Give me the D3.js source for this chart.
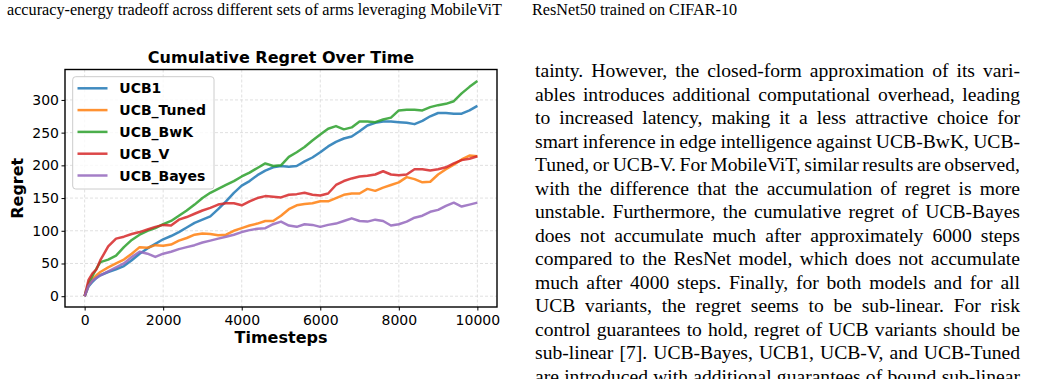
<!DOCTYPE html>
<html>
<head>
<meta charset="utf-8">
<script src="https://cdn.jsdelivr.net/npm/d3@7"></script>
<style>
  html, body { margin: 0; padding: 0; background: #fff; }
  svg { display: block; }
</style>
</head>
<body>
<div id="page"></div>
<script>
// timesteps at which the curves were read
const steps = [0, 100, 200, 300, 400, 600, 800, 1000, 1200, 1400, 1600, 1800, 2000,
  2200, 2400, 2600, 2800, 3000, 3200, 3400, 3600, 3800, 4000, 4200, 4400, 4600, 4800,
  5000, 5200, 5400, 5600, 5800, 6000, 6200, 6400, 6600, 6800, 7000, 7200, 7400, 7600,
  7800, 8000, 8200, 8400, 8600, 8800, 9000, 9200, 9400, 9600, 9800, 10000];

const ucb1 = [0, 15, 22, 28, 32, 37, 41, 46, 55, 65, 73, 80, 87, 92, 98, 105, 112, 117,
  122, 133, 145, 158, 169, 176, 185, 192, 197, 199, 198, 199, 206, 212, 220, 229, 236,
  241, 244, 252, 261, 265, 267, 267, 266, 265, 263, 268, 275, 280, 280, 279, 279, 284, 291];
const ucbTuned = [0, 17, 26, 32, 37, 44, 50, 56, 65, 75, 74, 78, 77, 79, 85, 89, 94, 96,
  95, 93, 94, 100, 104, 108, 111, 115, 115, 123, 133, 139, 141, 142, 145, 145, 150, 155,
  157, 157, 164, 161, 166, 170, 174, 182, 179, 174, 175, 186, 194, 201, 209, 215, 214];
const ucbBwk = [0, 20, 31, 42, 52, 56, 62, 75, 86, 94, 100, 104, 110, 115, 123, 131, 140,
  150, 158, 164, 170, 176, 183, 189, 196, 203, 199, 200, 213, 220, 228, 238, 247, 256, 260,
  255, 258, 267, 267, 266, 270, 273, 284, 285, 285, 284, 289, 292, 294, 298, 310, 320, 329];
const ucbV = [0, 25, 35, 41, 55, 76, 88, 91, 95, 98, 102, 106, 109, 108, 117, 121, 126,
  131, 135, 140, 142, 142, 139, 145, 150, 153, 152, 151, 155, 156, 158, 155, 154, 157, 170,
  176, 180, 183, 184, 186, 191, 186, 185, 186, 194, 194, 192, 194, 197, 203, 208, 210, 214];
const ucbBayes = [0, 16, 24, 28, 32, 38, 44, 50, 60, 68, 65, 60, 65, 68, 72, 75, 78, 82,
  85, 88, 91, 94, 98, 101, 103, 104, 110, 114, 108, 106, 110, 109, 106, 109, 111, 115, 119,
  115, 114, 117, 115, 108, 110, 114, 120, 123, 129, 132, 138, 143, 137, 140, 143];

const seriesNames = ['UCB1', 'UCB_Tuned', 'UCB_BwK', 'UCB_V', 'UCB_Bayes'];
const seriesValues = [ucb1, ucbTuned, ucbBwk, ucbV, ucbBayes];
const colors = ['#1f77b4', '#ff7f0e', '#2ca02c', '#d62728', '#9467bd'];

const xTicks = [0, 2000, 4000, 6000, 8000, 10000];
const yTicks = [0, 50, 100, 150, 200, 250, 300];

const captionLeft = 'accuracy-energy tradeoff across different sets of arms leveraging MobileViT';
const captionRight = 'ResNet50 trained on CIFAR-10';
const bodyLines = [
  'tainty. However, the closed-form approximation of its vari-',
  'ables introduces additional computational overhead, leading',
  'to increased latency, making it a less attractive choice for',
  'smart inference in edge intelligence against UCB-BwK, UCB-',
  'Tuned, or UCB-V. For MobileViT, similar results are observed,',
  'with the difference that the accumulation of regret is more',
  'unstable. Furthermore, the cumulative regret of UCB-Bayes',
  'does not accumulate much after approximately 6000 steps',
  'compared to the ResNet model, which does not accumulate',
  'much after 4000 steps. Finally, for both models and for all',
  'UCB variants, the regret seems to be sub-linear. For risk',
  'control guarantees to hold, regret of UCB variants should be',
  'sub-linear [7]. UCB-Bayes, UCB1, UCB-V, and UCB-Tuned',
  'are introduced with additional guarantees of bound sub-linear'
];

const W = 1041, H = 379;
const svg = d3.select('#page').append('svg').attr('width', W).attr('height', H);
svg.append('rect').attr('width', W).attr('height', H).attr('fill', '#fff');

// justify a line of text by spreading the word gaps
function justify(sel, width) {
  sel.each(function() {
    let n = this.getComputedTextLength();
    let gaps = (this.textContent.match(/ /g) || []).length;
    if (gaps) d3.select(this).attr('word-spacing', (width - n) / gaps);
  });
}

const serif = '"Liberation Serif", "Times New Roman", serif';

// paper text around the figure
svg.append('text').attr('x', 7).attr('y', 14.5)
  .attr('font-family', serif).attr('font-size', 16.2)
  .text(captionLeft).call(justify, 495);

svg.append('text').attr('x', 532).attr('y', 15)
  .attr('font-family', serif).attr('font-size', 16.2)
  .text(captionRight);

svg.append('g').selectAll('text')
  .data(bodyLines).enter()
  .append('text')
    .attr('x', 535)
    .attr('y', function(d, i) { return 77 + i * 23.5; })
    .attr('font-family', serif)
    .attr('font-size', 19.6)
    .text(function(d) { return d; })
    .call(justify, 485);

// chart
const pL = 65, pR = 497, pT = 69.5, pB = 307;
const x = d3.scaleLinear().domain([-500, 10500]).range([pL, pR]);
const y = d3.scaleLinear().domain([-16.5, 346.5]).range([pB, pT]);
const sans = '"DejaVu Sans", sans-serif';

let grid = svg.append('g').attr('stroke', '#d8d8d8').attr('stroke-width', 0.8)
  .attr('stroke-dasharray', '3,2');
grid.selectAll('.gx').data(xTicks).enter().append('line')
  .attr('x1', d => x(d)).attr('x2', d => x(d)).attr('y1', pT).attr('y2', pB);
grid.selectAll('.gy').data(yTicks).enter().append('line')
  .attr('y1', d => y(d)).attr('y2', d => y(d)).attr('x1', pL).attr('x2', pR);

const line = d3.line()
  .x(function(d, i) { return x(steps[i]); })
  .y(function(d) { return y(d); });

svg.append('g').selectAll('path')
  .data(seriesValues).enter()
  .append('path')
    .attr('fill', 'none')
    .attr('stroke', (d, i) => colors[i])
    .attr('stroke-opacity', 0.85)
    .attr('stroke-width', 2.5)
    .attr('stroke-linejoin', 'round')
    .attr('d', line);

let xAxis = svg.append('g').attr('transform', 'translate(0,' + pB + ')')
  .call(d3.axisBottom(x).tickValues(xTicks).tickSize(3.5).tickPadding(4.5).tickFormat(d3.format('d')));
let yAxis = svg.append('g').attr('transform', 'translate(' + pL + ',0)')
  .call(d3.axisLeft(y).tickValues(yTicks).tickSize(3.5).tickPadding(2.5));
[xAxis, yAxis].forEach(function(a) {
  a.select('.domain').remove();
  a.selectAll('text').attr('font-family', sans).attr('font-size', 14).attr('fill', '#000');
  a.selectAll('line').attr('stroke', '#000').attr('stroke-width', 1);
});

svg.append('rect')
  .attr('x', pL).attr('y', pT)
  .attr('width', pR - pL).attr('height', pB - pT)
  .attr('fill', 'none').attr('stroke', '#000').attr('stroke-width', 1.4);

svg.append('text')
  .attr('x', (pL + pR) / 2).attr('y', 63)
  .attr('text-anchor', 'middle')
  .attr('font-family', sans).attr('font-weight', 'bold').attr('font-size', 16)
  .text('Cumulative Regret Over Time');

svg.append('text')
  .attr('x', (pL + pR) / 2).attr('y', 342.5)
  .attr('text-anchor', 'middle')
  .attr('font-family', sans).attr('font-weight', 'bold').attr('font-size', 16)
  .text('Timesteps');

svg.append('text')
  .attr('transform', 'translate(23,' + (pT + pB) / 2 + ') rotate(-90)')
  .attr('text-anchor', 'middle')
  .attr('font-family', sans).attr('font-weight', 'bold').attr('font-size', 16)
  .text('Regret');

// legend
let legend = svg.append('g');
legend.append('rect')
  .attr('x', 72.7).attr('y', 76.7)
  .attr('width', 141.3).attr('height', 112.3)
  .attr('rx', 3).attr('ry', 3)
  .attr('fill', '#fff').attr('fill-opacity', 0.8)
  .attr('stroke', '#cccccc').attr('stroke-width', 1);

for (let i = 0; i < seriesNames.length; i++) {
  let cy = 88.3 + i * 21.8;
  legend.append('line')
    .attr('x1', 77.5).attr('x2', 107.5)
    .attr('y1', cy).attr('y2', cy)
    .attr('stroke', colors[i]).attr('stroke-opacity', 0.85)
    .attr('stroke-width', 2.5);
  legend.append('text')
    .attr('x', 119.3).attr('y', cy + 5.1)
    .attr('font-family', sans).attr('font-weight', 'bold').attr('font-size', 14)
    .text(seriesNames[i]);
}
</script>
</body>
</html>
